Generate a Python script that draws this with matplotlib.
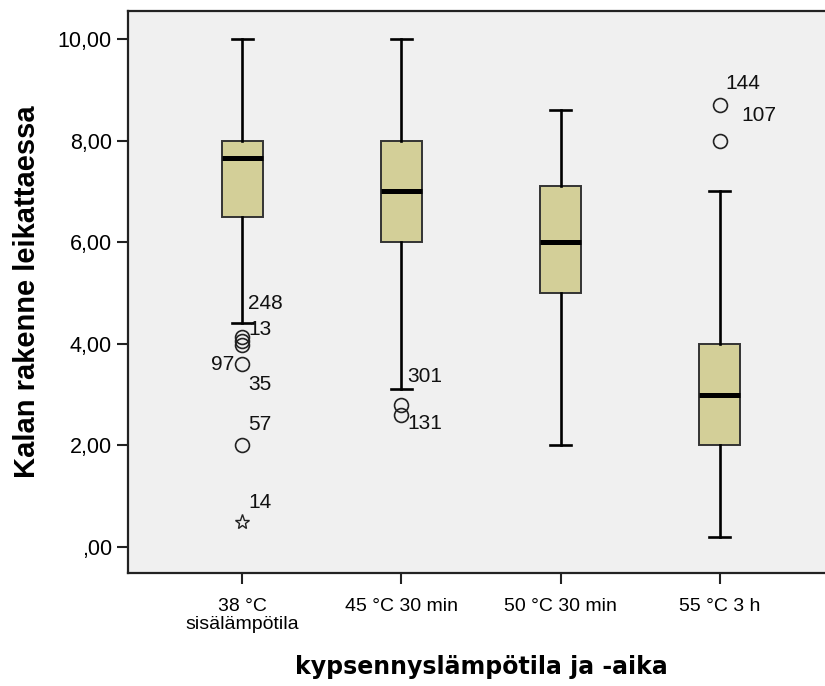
import numpy as np
import matplotlib.pyplot as plt

categories = ["38 °C\nsisälämpötila", "45 °C 30 min", "50 °C 30 min", "55 °C 3 h"]
q1 = [6.5, 6.0, 5.0, 2.0]
medians = [7.65, 7.0, 6.0, 3.0]
q3 = [8.0, 8.0, 7.1, 4.0]
whisker_low = [4.4, 3.1, 2.0, 0.2]
whisker_high = [10.0, 10.0, 8.6, 7.0]
outliers = [[4.14, 4.05, 3.98, 3.6, 2.0], [2.8, 2.6], [], [8.7, 8.0]]
extremes = [[0.5], [], [], []]

# case ids shown next to outliers: (group, value, label, dx px)
outlier_labels = [
    (0, 4.8, "248", 6), (0, 4.27, "13", 6), (0, 3.6, "97", -8),
    (0, 3.19, "35", 6), (0, 2.4, "57", 6), (0, 0.87, "14", 6),
    (1, 3.35, "301", 6), (1, 2.42, "131", 6),
    (3, 9.13, "144", 6), (3, 8.5, "107", 22),
]

box_color = "#d3cf98"
bg_color = "#f0f0f0"
plt.rcParams["font.family"] = ["Liberation Sans", "DejaVu Sans"]

fig = plt.figure(figsize=(8.25, 6.86), dpi=100)
ax = fig.add_axes([0.155, 0.165, 0.856, 0.819])
ax.set_facecolor(bg_color)

stats = []
for i in range(len(categories)):
    stats.append(dict(med=medians[i], q1=q1[i], q3=q3[i], whislo=whisker_low[i],
                      whishi=whisker_high[i], fliers=outliers[i]))

pos = np.arange(1, len(categories) + 1)
ax.bxp(stats, positions=pos, widths=0.26, patch_artist=True,
       boxprops=dict(facecolor=box_color, edgecolor="#333333", linewidth=1.4),
       medianprops=dict(color="black", linewidth=3.6),
       whiskerprops=dict(color="black", linewidth=1.9),
       capprops=dict(color="black", linewidth=1.9),
       capwidths=0.13,
       flierprops=dict(marker="o", markersize=10, markerfacecolor="none",
                       markeredgecolor="#222222", markeredgewidth=1.2))

for i, ext in enumerate(extremes):
    if ext:
        ax.plot([pos[i]] * len(ext), ext, linestyle="none", marker="*", markersize=11,
                markerfacecolor="none", markeredgecolor="#222222", markeredgewidth=1.0)

for g, v, lab, dx in outlier_labels:
    ha = "left" if dx >= 0 else "right"
    ax.annotate(lab, (pos[g], v), xytext=(dx * 0.72, 0), textcoords="offset points",
                ha=ha, va="center", fontsize=15, color="#111111")

ax.set_xlim(0.28, 4.72)
ax.set_ylim(-0.51, 10.55)
ax.set_xticks(pos)
ax.set_xticklabels(categories, fontsize=14, linespacing=1.1)
yt = [0, 2, 4, 6, 8, 10]
ax.set_yticks(yt)
ax.set_yticklabels([",00" if v == 0 else ("%.2f" % v).replace(".", ",") for v in yt],
                   fontsize=15.5)
ax.tick_params(axis="both", direction="out", length=8, width=1.5, color="#222222")
ax.tick_params(axis="x", pad=10)

for s in ax.spines.values():
    s.set_color("#222222")
    s.set_linewidth(1.6)

ax.set_ylabel("Kalan rakenne leikattaessa", fontsize=21, fontweight="bold", labelpad=12)
ax.set_xlabel("kypsennyslämpötila ja -aika", fontsize=17, fontweight="bold",
              family="DejaVu Sans", labelpad=16)

fig.savefig("out.png", dpi=100, facecolor="white")
